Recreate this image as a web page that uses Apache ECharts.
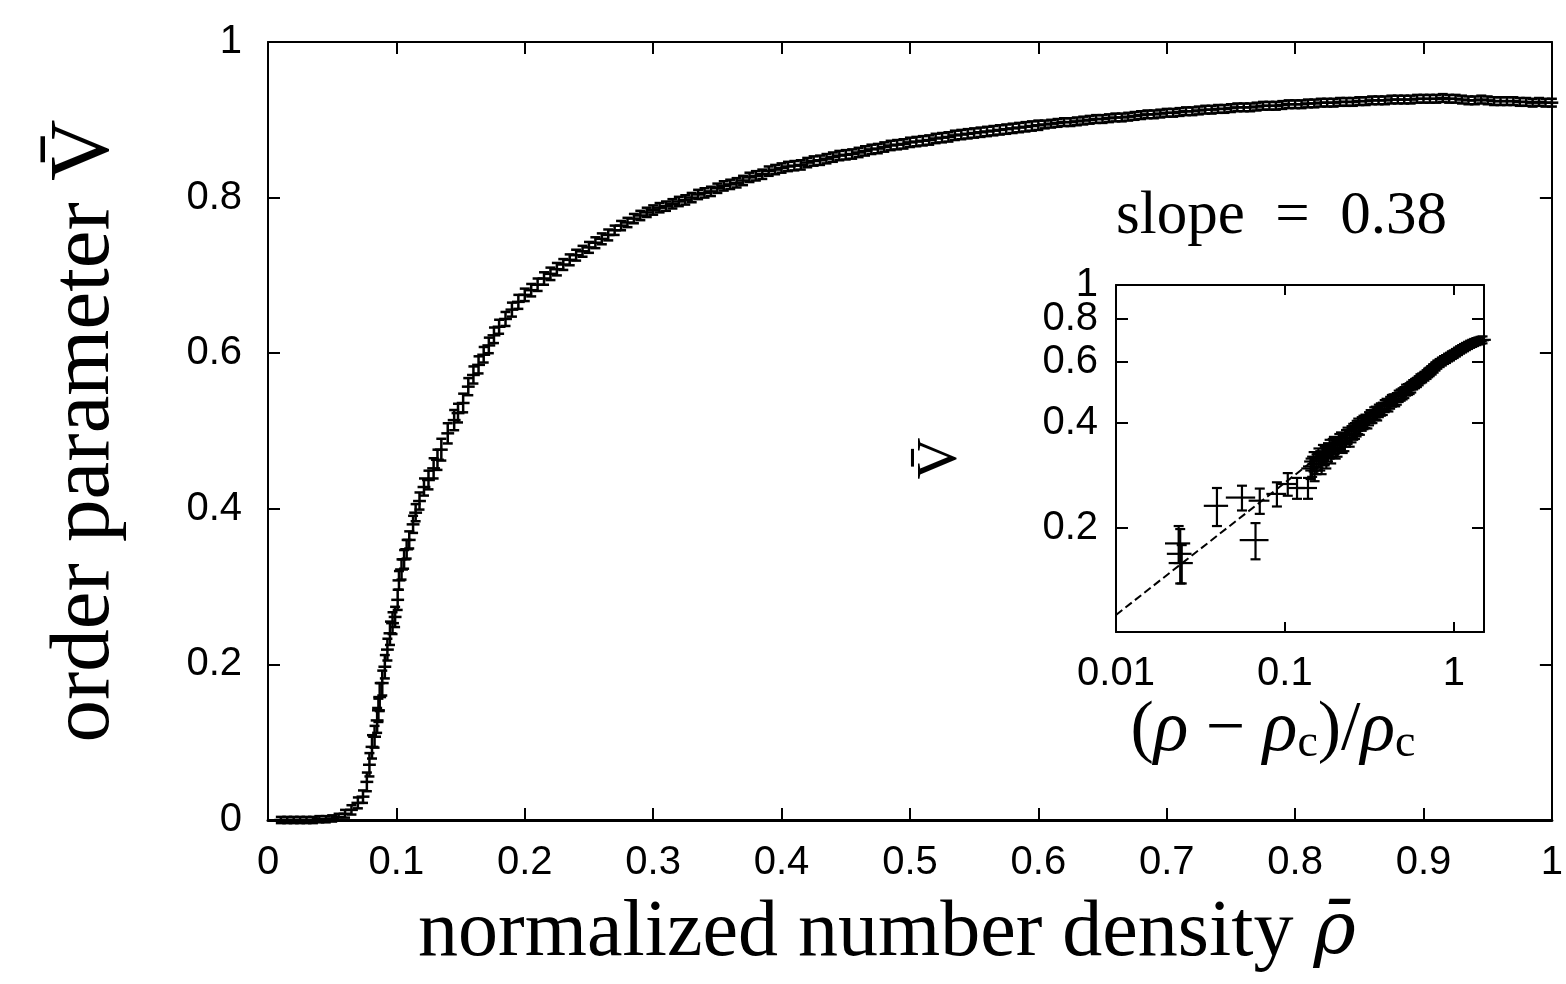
<!DOCTYPE html>
<html>
<head>
<meta charset="utf-8">
<script src="https://cdn.jsdelivr.net/npm/echarts@6/dist/echarts.min.js"></script>
<style>
html,body{margin:0;padding:0;background:#fff;}
#chart{width:1566px;height:984px;}
</style>
</head>
<body>
<div id="chart"></div>
<script>
// ---------------- main panel data ----------------
const rho = [
  0.010,0.015,0.020,0.025,0.030,0.035,0.040,0.045,0.050,0.055,
  0.060,0.065,0.070,0.074,0.077,0.079,0.081,0.083,0.085,0.086,
  0.087,0.089,0.091,0.093,0.095,0.097,0.099,0.101,0.102,0.104,
  0.106,0.108,0.110,0.113,0.115,0.118,0.1215,0.125,0.129,0.132,
  0.135,0.140,0.145,0.148,0.152,0.156,0.160,0.164,0.168,0.172,
  0.176,0.180,0.185,0.190,0.195,0.200,0.205,0.210,0.215,0.220,
  0.225,0.230,0.235,0.240,0.245,0.250,0.255,0.260,0.265,0.270,
  0.275,0.280,0.285,0.290,0.295,0.300,
  0.305,0.310,0.315,0.320,0.325,0.330,0.335,0.340,0.345,0.350,
  0.355,0.360,0.365,0.370,0.375,0.380,0.385,0.390,0.395,0.400,
  0.405,0.410,0.415,0.420,0.425,0.430,0.435,0.440,0.445,0.450,
  0.455,0.460,0.465,0.470,0.475,0.480,0.485,0.490,0.495,0.500,
  0.505,0.510,0.515,0.520,0.525,0.530,0.535,0.540,0.545,0.550,
  0.555,0.560,0.565,0.570,0.575,0.580,0.585,0.590,0.595,0.600,
  0.605,0.610,0.615,0.620,0.625,0.630,0.635,0.640,0.645,0.650,
  0.655,0.660,0.665,0.670,0.675,0.680,0.685,0.690,0.695,0.700,
  0.705,0.710,0.715,0.720,0.725,0.730,0.735,0.740,0.745,0.750,
  0.755,0.760,0.765,0.770,0.775,0.780,0.785,0.790,0.795,0.800,
  0.805,0.810,0.815,0.820,0.825,0.830,0.835,0.840,0.845,0.850,
  0.855,0.860,0.865,0.870,0.875,0.880,0.885,0.890,0.895,0.900,
  0.905,0.910,0.915,0.920,0.925,0.930,0.935,0.940,0.945,0.950,
  0.955,0.960,0.965,0.970,0.975,0.980,0.985,0.990,0.995,1.000
];
const orderV = [
  0.000,0.000,0.000,0.000,0.000,0.000,0.001,0.001,0.002,0.004,
  0.008,0.013,0.022,0.030,0.049,0.071,0.094,0.107,0.128,0.141,
  0.158,0.176,0.197,0.219,0.240,0.253,0.261,0.283,0.308,0.322,
  0.335,0.348,0.360,0.380,0.395,0.410,0.428,0.437,0.452,0.463,
  0.476,0.497,0.514,0.523,0.536,0.557,0.572,0.585,0.598,0.610,
  0.623,0.634,0.644,0.656,0.666,0.675,0.681,0.688,0.696,0.702,
  0.708,0.714,0.720,0.726,0.731,0.736,0.742,0.747,0.752,0.758,
  0.764,0.768,0.773,0.777,0.781,0.784,
  0.787,0.789,0.792,0.795,0.797,0.800,0.804,0.806,0.808,0.812,
  0.815,0.817,0.819,0.822,0.826,0.828,0.830,0.834,0.836,0.838,
  0.840,0.841,0.842,0.845,0.847,0.848,0.850,0.852,0.854,0.855,
  0.856,0.858,0.860,0.862,0.863,0.865,0.867,0.868,0.869,0.871,
  0.872,0.873,0.874,0.876,0.877,0.878,0.880,0.881,0.882,0.883,
  0.884,0.885,0.886,0.887,0.888,0.889,0.890,0.891,0.892,0.893,
  0.894,0.895,0.896,0.897,0.897,0.898,0.899,0.900,0.901,0.901,
  0.902,0.903,0.903,0.904,0.905,0.906,0.907,0.907,0.908,0.909,
  0.909,0.910,0.911,0.911,0.912,0.913,0.913,0.914,0.914,0.915,
  0.916,0.916,0.916,0.917,0.918,0.918,0.918,0.919,0.920,0.920,
  0.920,0.921,0.921,0.922,0.922,0.922,0.923,0.923,0.923,0.924,
  0.924,0.925,0.925,0.925,0.926,0.926,0.926,0.926,0.927,0.927,
  0.927,0.927,0.928,0.927,0.927,0.926,0.925,0.925,0.926,0.925,
  0.924,0.924,0.924,0.924,0.923,0.923,0.922,0.923,0.922,0.922
];
const orderVErr = [
  0.004,0.004,0.004,0.004,0.004,0.004,0.004,0.004,0.004,0.004,
  0.005,0.006,0.007,0.008,0.012,0.015,0.015,0.014,0.016,0.015,
  0.018,0.016,0.015,0.014,0.015,0.014,0.013,0.013,0.012,0.013,
  0.012,0.012,0.011,0.011,0.011,0.011,0.011,0.012,0.013,0.013,
  0.014,0.013,0.013,0.012,0.012,0.011,0.011,0.011,0.010,0.010,
  0.010,0.009,0.009,0.009,0.009,0.008,0.008,0.008,0.008,0.008,
  0.008,0.007,0.007,0.007,0.007,0.007,0.007,0.007,0.007,0.006,
  0.006,0.006,0.006,0.006,0.006,0.006,
  0.006,0.006,0.006,0.006,0.006,0.006,0.006,0.006,0.006,0.006,
  0.006,0.006,0.006,0.006,0.006,0.006,0.006,0.006,0.006,0.006,
  0.006,0.006,0.006,0.006,0.006,0.006,0.006,0.006,0.006,0.006,
  0.006,0.006,0.006,0.006,0.006,0.006,0.006,0.006,0.006,0.006,
  0.006,0.006,0.006,0.006,0.006,0.006,0.006,0.006,0.006,0.006,
  0.006,0.006,0.006,0.006,0.006,0.006,0.006,0.006,0.006,0.006,
  0.005,0.005,0.005,0.005,0.005,0.005,0.005,0.005,0.005,0.005,
  0.005,0.005,0.005,0.005,0.005,0.005,0.005,0.005,0.005,0.005,
  0.005,0.005,0.005,0.005,0.005,0.005,0.005,0.005,0.005,0.005,
  0.005,0.005,0.005,0.005,0.005,0.005,0.005,0.005,0.005,0.005,
  0.005,0.005,0.005,0.005,0.005,0.005,0.005,0.005,0.005,0.005,
  0.005,0.005,0.005,0.005,0.005,0.005,0.005,0.005,0.005,0.005,
  0.005,0.005,0.005,0.005,0.005,0.005,0.005,0.005,0.005,0.005,
  0.005,0.005,0.005,0.005,0.005,0.005,0.005,0.005,0.005,0.005
];
const rhoErr = 0.005;
const mainXTicks = [0,0.1,0.2,0.3,0.4,0.5,0.6,0.7,0.8,0.9,1];
const mainYTicks = [0,0.2,0.4,0.6,0.8,1];

// ---------------- inset (log-log) data ----------------
const insetX = [
  0.0235,0.0240,0.0245,0.0396,0.0557,0.0670,0.0710,0.0897,0.104,0.118,0.137,
  0.142,0.145,0.148,0.150,0.154,0.158,0.162,0.165,0.168,0.172,
  0.176,0.180,0.184,0.188,0.192,0.195,0.200,0.205,0.210,0.215,
  0.220,0.225,0.230,0.235,0.242,0.248,0.254,0.260,0.266,0.272,
  0.278,0.285,0.292,0.300,0.308,0.315,0.322,0.330,0.338,0.345,
  0.352,0.360,0.370,0.380,0.390,0.400,0.410,0.420,0.430,0.440,
  0.450,0.460,0.472,0.485,0.498,0.510,0.522,0.535,0.548,0.560,
  0.575,0.590,0.605,0.620,0.635,0.650,0.670,0.690,0.705,0.720,
  0.740,0.760,0.780,0.800,0.825,0.850,0.875,0.900,0.925,0.950,
  0.975,1.000,1.030,1.060,1.090,1.120,1.150,1.180,1.215,1.250,
  1.285,1.320,1.360,1.400,1.440,1.480
];
const insetV = [
  0.180,0.168,0.158,0.231,0.244,0.184,0.239,0.250,0.267,0.260,0.260,
  0.296,0.300,0.310,0.292,0.305,0.318,0.312,0.305,0.326,0.322,
  0.316,0.330,0.338,0.326,0.340,0.345,0.336,0.340,0.352,0.356,
  0.348,0.352,0.362,0.368,0.362,0.372,0.378,0.380,0.386,0.392,
  0.388,0.398,0.402,0.405,0.404,0.412,0.418,0.418,0.426,0.428,
  0.425,0.434,0.438,0.440,0.448,0.452,0.450,0.458,0.464,0.466,
  0.465,0.470,0.478,0.482,0.486,0.490,0.498,0.500,0.503,0.508,
  0.516,0.520,0.524,0.530,0.537,0.540,0.546,0.552,0.558,0.562,
  0.568,0.575,0.583,0.590,0.596,0.602,0.608,0.612,0.618,0.622,
  0.628,0.632,0.638,0.644,0.650,0.655,0.660,0.665,0.670,0.675,
  0.679,0.683,0.687,0.690,0.693,0.695
];
const insetXErr = [
  0.004,0.004,0.004,0.0065,0.011,0.013,0.010,0.012,0.014,0.014,0.018,
  0.017,0.017,0.018,0.018,0.018,0.019,0.019,0.020,0.020,0.021,
  0.021,0.022,0.022,0.023,0.023,0.023,0.024,0.025,0.025,0.026,
  0.026,0.027,0.028,0.028,0.029,0.030,0.030,0.031,0.032,0.033,
  0.033,0.034,0.035,0.036,0.037,0.038,0.039,0.040,0.041,0.041,
  0.042,0.043,0.044,0.046,0.047,0.048,0.049,0.050,0.052,0.053,
  0.054,0.055,0.057,0.058,0.060,0.061,0.063,0.064,0.066,0.067,
  0.069,0.071,0.073,0.074,0.076,0.078,0.080,0.083,0.085,0.086,
  0.089,0.091,0.094,0.096,0.099,0.102,0.105,0.108,0.111,0.114,
  0.117,0.120,0.124,0.127,0.131,0.134,0.138,0.142,0.146,0.150,
  0.154,0.158,0.163,0.168,0.173,0.178
];
const insetVErr = [
  0.022,0.030,0.020,0.029,0.020,0.022,0.020,0.020,0.020,0.018,0.018,
  0.020,0.020,0.020,0.020,0.020,0.020,0.020,0.020,0.020,0.020,
  0.020,0.020,0.020,0.020,0.020,0.020,0.020,0.020,0.020,0.020,
  0.020,0.020,0.020,0.020,0.020,0.020,0.020,0.020,0.020,0.020,
  0.018,0.018,0.018,0.018,0.018,0.018,0.018,0.018,0.018,0.018,
  0.018,0.018,0.018,0.018,0.018,0.018,0.018,0.018,0.018,0.018,
  0.018,0.018,0.018,0.018,0.018,0.018,0.018,0.018,0.018,0.018,
  0.016,0.016,0.016,0.016,0.016,0.016,0.016,0.016,0.016,0.016,
  0.016,0.016,0.016,0.016,0.016,0.016,0.016,0.016,0.016,0.016,
  0.016,0.016,0.016,0.016,0.016,0.016,0.016,0.016,0.016,0.016,
  0.016,0.016,0.016,0.016,0.016,0.016
];
const insetXTicks = [0.01, 0.1, 1];
const insetYTicks = [0.2, 0.4, 0.6, 0.8];
const insetYTopTick = [1];
const insetXRange = [0.01, 1.51];
const insetYRange = [0.1, 1];
// dashed power-law fit (slope = 0.38), end points
const fitX = [0.01, 1.0];
const fitV = [0.112, 0.647];

// ---------------- build ----------------
const lg = Math.log10;
const mainData = rho.map((r, i) => [r, orderV[i], r - rhoErr, r + rhoErr, orderV[i] - orderVErr[i], orderV[i] + orderVErr[i]]);
const insetData = insetX.map((x, i) => [lg(x), lg(insetV[i]), lg(x - insetXErr[i]), lg(x + insetXErr[i]), lg(insetV[i] - insetVErr[i]), lg(insetV[i] + insetVErr[i])]);
const fitData = fitX.map((x, i) => [lg(x), lg(fitV[i])]);

function errorBars(capPx, lw) {
  return function (params, api) {
    const xc = api.value(0), yc = api.value(1);
    const pL = api.coord([api.value(2), yc]);
    const pR = api.coord([api.value(3), yc]);
    const pB = api.coord([xc, api.value(4)]);
    const pT = api.coord([xc, api.value(5)]);
    const style = { stroke: '#000', lineWidth: lw, fill: null };
    return {
      type: 'group',
      children: [
        { type: 'line', shape: { x1: pL[0], y1: pL[1], x2: pR[0], y2: pR[1] }, style: style },
        { type: 'line', shape: { x1: pB[0], y1: pB[1], x2: pT[0], y2: pT[1] }, style: style },
        { type: 'line', shape: { x1: pB[0] - capPx, y1: pB[1], x2: pB[0] + capPx, y2: pB[1] }, style: style },
        { type: 'line', shape: { x1: pT[0] - capPx, y1: pT[1], x2: pT[0] + capPx, y2: pT[1] }, style: style }
      ]
    };
  };
}

const labelFont = { fontFamily: 'Liberation Sans', fontSize: 40, color: '#000' };
const serif = 'Liberation Serif';
const blackLine = (w) => ({ show: true, onZero: false, lineStyle: { color: '#000', width: w } });
const inTick = (len) => ({ show: true, inside: true, length: len, lineStyle: { color: '#000', width: 2 } });
function logLabel(ticks) {
  return function (v) {
    const t = ticks.find(k => Math.abs(lg(k) - v) < 1e-6);
    return t === undefined ? '' : String(t);
  };
}

const chart = echarts.init(document.getElementById('chart'), null, { renderer: 'canvas' });
chart.setOption({
  animation: false,
  backgroundColor: '#fff',
  title: {
    text: 'slope\u2002=\u20020.38',
    left: 1116, top: 186, padding: 0,
    textStyle: { fontFamily: serif, fontSize: 61, fontWeight: 'normal', color: '#000' }
  },
  grid: [
    { left: 268, top: 42, width: 1292, height: 778 },
    { left: 1116, top: 285, width: 368, height: 347, show: true, backgroundColor: '#fff', borderWidth: 0 }
  ],
  xAxis: [
    {
      gridIndex: 0, type: 'value', position: 'bottom', min: mainXTicks[0], max: mainXTicks[mainXTicks.length - 1], interval: 0.1,
      axisLine: blackLine(3), axisTick: inTick(12), splitLine: { show: false },
      axisLabel: Object.assign({ margin: 23, showMaxLabel: true, alignMaxLabel: 'center' }, labelFont),
      name: 'normalized number density {r|\u03c1\u0304}', nameLocation: 'middle', nameGap: 74,
      nameTextStyle: {
        fontFamily: serif, fontSize: 80, color: '#000', padding: [0, 46, 0, 0],
        rich: { r: { fontFamily: 'DejaVu Serif', fontStyle: 'italic', fontSize: 72, color: '#000' } }
      }
    },
    {
      gridIndex: 0, type: 'value', position: 'top', min: 0, max: 1, interval: 0.1,
      axisLine: blackLine(2), axisTick: inTick(12), axisLabel: { show: false }, splitLine: { show: false }
    },
    {
      gridIndex: 1, type: 'value', position: 'bottom', min: lg(insetXRange[0]), max: lg(insetXRange[1]),
      axisLine: blackLine(2), splitLine: { show: false },
      axisTick: Object.assign(inTick(10), { customValues: insetXTicks.map(lg) }),
      axisLabel: Object.assign({ margin: 22, showMinLabel: true, showMaxLabel: true, customValues: insetXTicks.map(lg), formatter: logLabel(insetXTicks) }, labelFont),
      name: '({i|\u03c1} \u2212 {i|\u03c1}{sub|c})/{i|\u03c1}{sub|c}', nameLocation: 'middle', nameGap: 62,
      nameTextStyle: {
        fontFamily: serif, fontSize: 70, color: '#000', padding: [0, 54, 0, 0],
        rich: {
          i: { fontFamily: serif, fontStyle: 'italic', fontSize: 72, color: '#000' },
          sub: { fontFamily: serif, fontSize: 46, color: '#000', padding: [26, 0, 0, 0] }
        }
      }
    },
    {
      gridIndex: 1, type: 'value', position: 'top', min: lg(insetXRange[0]), max: lg(insetXRange[1]),
      axisLine: blackLine(2), splitLine: { show: false },
      axisTick: Object.assign(inTick(10), { customValues: insetXTicks.map(lg) }),
      axisLabel: { show: false }
    }
  ],
  yAxis: [
    {
      gridIndex: 0, type: 'value', position: 'left', min: mainYTicks[0], max: mainYTicks[mainYTicks.length - 1], interval: 0.2,
      axisLine: blackLine(2), axisTick: inTick(12), splitLine: { show: false },
      axisLabel: Object.assign({ margin: 26, showMaxLabel: true }, labelFont),
      name: 'order parameter V\u0304', nameLocation: 'middle', nameRotate: 90, nameGap: 140,
      nameTextStyle: { fontFamily: serif, fontSize: 85, color: '#000' }
    },
    {
      gridIndex: 0, type: 'value', position: 'right', min: 0, max: 1, interval: 0.2,
      axisLine: blackLine(2), axisTick: inTick(12), axisLabel: { show: false }, splitLine: { show: false }
    },
    {
      gridIndex: 1, type: 'value', position: 'left', min: lg(insetYRange[0]), max: lg(insetYRange[1]),
      axisLine: blackLine(2), splitLine: { show: false },
      axisTick: Object.assign(inTick(12), { customValues: insetYTicks.map(lg) }),
      axisLabel: Object.assign({ margin: 18, showMinLabel: true, showMaxLabel: true, customValues: insetYTicks.map(lg), formatter: logLabel(insetYTicks) }, labelFont),
      name: 'V\u0304', nameLocation: 'middle', nameRotate: 90, nameGap: 146,
      nameTextStyle: { fontFamily: serif, fontSize: 58, color: '#000' }
    },
    {
      gridIndex: 1, type: 'value', position: 'right', min: lg(insetYRange[0]), max: lg(insetYRange[1]),
      axisLine: blackLine(2), splitLine: { show: false },
      axisTick: Object.assign(inTick(12), { customValues: insetYTicks.map(lg) }),
      axisLabel: { show: false }
    },
    {
      // carries only the top "1" label of the inset, so it is not dropped by overlap handling
      gridIndex: 1, type: 'value', position: 'left', min: lg(insetYRange[0]), max: lg(insetYRange[1]),
      axisLine: { show: false, onZero: false }, axisTick: { show: false }, splitLine: { show: false },
      axisLabel: Object.assign({ margin: 18, showMinLabel: true, showMaxLabel: true, customValues: insetYTopTick.map(lg), formatter: logLabel(insetYTopTick) }, labelFont)
    }
  ],
  series: [
    {
      type: 'custom', xAxisIndex: 0, yAxisIndex: 0, data: mainData,
      encode: { x: [0, 2, 3], y: [1, 4, 5] }, renderItem: errorBars(5, 2.5), clip: false, z: 3
    },
    {
      type: 'line', xAxisIndex: 2, yAxisIndex: 2, data: fitData, symbol: 'none', z: 2,
      lineStyle: { color: '#000', width: 2, type: [8, 4] }
    },
    {
      type: 'custom', xAxisIndex: 2, yAxisIndex: 2, data: insetData,
      encode: { x: [0, 2, 3], y: [1, 4, 5] }, renderItem: errorBars(5, 2.2), clip: false, z: 3
    }
  ]
});
</script>
</body>
</html>
